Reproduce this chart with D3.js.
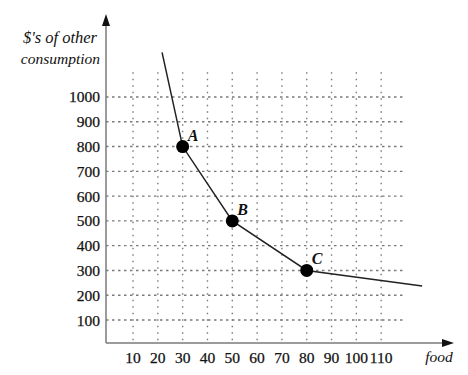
<!DOCTYPE html>
<html>
<head>
<meta charset="utf-8">
<script src="https://cdn.jsdelivr.net/npm/d3@7"></script>
<style>
  body { margin: 0; background: #fff; }
  svg { display: block; }
</style>
</head>
<body>
<svg id="chart" width="468" height="375"></svg>
<script>
// tick values on each axis
var foodTicks = [10, 20, 30, 40, 50, 60, 70, 80, 90, 100, 110];
var otherTicks = [100, 200, 300, 400, 500, 600, 700, 800, 900, 1000];

// the curve (food, $'s of other consumption)
var curveFood = [21.7, 30, 50, 80, 126.5];
var curveOther = [1180, 800, 500, 300, 237];

// labelled points
var pointNames = ['A', 'B', 'C'];
var pointFood = [30, 50, 80];
var pointOther = [800, 500, 300];

var svg = d3.select('#chart')
  .attr('font-family', "'Liberation Serif', 'Times New Roman', Times, 'DejaVu Serif', serif");

var x = d3.scaleLinear().domain([0, 120]).range([108.2, 406]);
var y = d3.scaleLinear().domain([0, 1100]).range([344.8, 72.2]);

var axisX = 106;
var axisY = 343;
var ink = '#111';

// grid
var grid = svg.append('g');
grid.selectAll('line.v')
  .data(foodTicks)
  .enter().append('line')
  .attr('class', 'v')
  .attr('x1', function(d) { return x(d); })
  .attr('x2', function(d) { return x(d); })
  .attr('y1', y(1100))
  .attr('y2', axisY)
  .attr('stroke', '#7a7a7a')
  .attr('stroke-width', 1.4)
  .attr('stroke-dasharray', '1.5,5');

grid.selectAll('line.h')
  .data(otherTicks)
  .enter().append('line')
  .attr('class', 'h')
  .attr('x1', axisX)
  .attr('x2', x(120))
  .attr('y1', function(d) { return y(d); })
  .attr('y2', function(d) { return y(d); })
  .attr('stroke', '#7a7a7a')
  .attr('stroke-width', 1.4)
  .attr('stroke-dasharray', '2.5,3.5');

// axes lines with arrows
svg.append('line')
  .attr('x1', axisX).attr('x2', axisX)
  .attr('y1', axisY).attr('y2', 24)
  .attr('stroke', '#7a7a7a').attr('stroke-width', 1.5);
svg.append('path')
  .attr('d', 'M' + (axisX - 4) + ',26 L' + axisX + ',14 L' + (axisX + 4) + ',26 Z')
  .attr('fill', '#111');

svg.append('line')
  .attr('x1', axisX).attr('x2', 444)
  .attr('y1', axisY).attr('y2', axisY)
  .attr('stroke', '#7a7a7a').attr('stroke-width', 1.5);
svg.append('path')
  .attr('d', 'M442,' + (axisY - 4) + ' L454,' + axisY + ' L442,' + (axisY + 4) + ' Z')
  .attr('fill', '#111');

// tick labels
svg.selectAll('text.xt')
  .data(foodTicks)
  .enter().append('text')
  .attr('class', 'xt')
  .attr('x', function(d) { return x(d); })
  .attr('y', 362.5)
  .attr('text-anchor', 'middle')
  .attr('font-size', 15.5)
  .attr('fill', ink)
  .attr('stroke', ink)
  .attr('stroke-width', 0.25)
  .text(function(d) { return d; });

svg.selectAll('text.yt')
  .data(otherTicks)
  .enter().append('text')
  .attr('class', 'yt')
  .attr('x', 100)
  .attr('y', function(d) { return y(d) + 5.5; })
  .attr('text-anchor', 'end')
  .attr('font-size', 15.5)
  .attr('fill', ink)
  .attr('stroke', ink)
  .attr('stroke-width', 0.25)
  .text(function(d) { return d; });

// axis titles
svg.append('text')
  .attr('x', 97).attr('y', 43)
  .attr('text-anchor', 'end')
  .attr('font-size', 16.5)
  .attr('font-style', 'italic')
  .attr('fill', ink)
  .text("$'s of other");
svg.append('text')
  .attr('x', 100).attr('y', 64)
  .attr('text-anchor', 'end')
  .attr('font-size', 15.5)
  .attr('font-style', 'italic')
  .attr('fill', ink)
  .text('consumption');
svg.append('text')
  .attr('x', 439).attr('y', 362)
  .attr('text-anchor', 'middle')
  .attr('font-size', 15.5)
  .attr('font-style', 'italic')
  .attr('fill', ink)
  .text('food');

// curve
var line = d3.line()
  .x(function(d) { return x(d[0]); })
  .y(function(d) { return y(d[1]); });

svg.append('path')
  .datum(d3.zip(curveFood, curveOther))
  .attr('d', line)
  .attr('fill', 'none')
  .attr('stroke', '#222')
  .attr('stroke-width', 1.5);

// points and labels
var pts = d3.zip(pointNames, pointFood, pointOther);
svg.selectAll('circle.pt')
  .data(pts)
  .enter().append('circle')
  .attr('class', 'pt')
  .attr('cx', function(d) { return x(d[1]); })
  .attr('cy', function(d) { return y(d[2]); })
  .attr('r', 6.5)
  .attr('fill', '#000');

svg.selectAll('text.pl')
  .data(pts)
  .enter().append('text')
  .attr('class', 'pl')
  .attr('x', function(d) { return x(d[1]) + 5; })
  .attr('y', function(d) { return y(d[2]) - 6; })
  .attr('font-size', 16)
  .attr('font-weight', 'bold')
  .attr('font-style', 'italic')
  .attr('fill', ink)
  .text(function(d) { return d[0]; });
</script>
</body>
</html>
